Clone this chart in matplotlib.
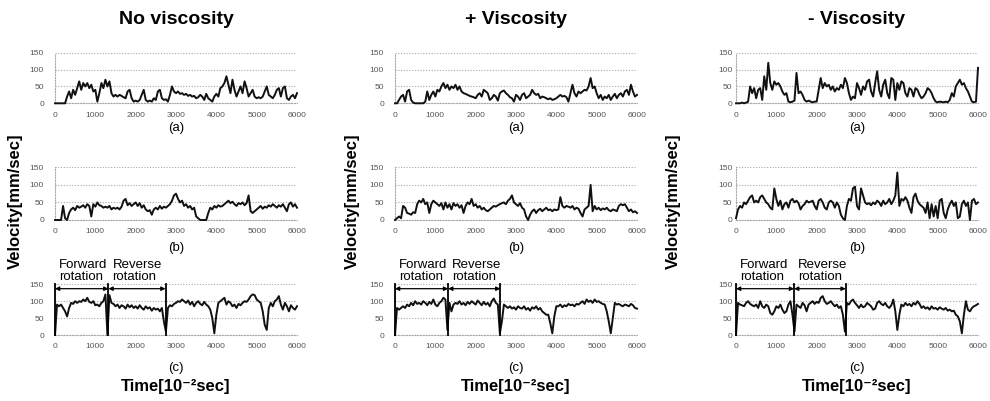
import numpy as np
import matplotlib
matplotlib.use('Agg')
import matplotlib.pyplot as plt

plt.rcParams['font.family'] = ['Liberation Sans', 'DejaVu Sans']

# ---------------- data ----------------
titles = ['No viscosity', '+ Viscosity', '- Viscosity']
panel_labels = ['(a)', '(b)', '(c)']
y_label = 'Velocity[mm/sec]'
x_label = 'Time[10\u207b\u00b2sec]'
x_ticks = [0, 1000, 2000, 3000, 4000, 5000, 6000]
y_ticks = [0, 50, 100, 150]
rotation_labels = ['Forward\nrotation', 'Reverse\nrotation']

# velocity samples every 50 time units, 0..6000
nv_a = [0, 0, 0, 0, 0, 0, 20, 35, 15, 40,
        25, 45, 65, 40, 60, 50, 60, 45, 55, 35,
        40, 5, 30, 60, 45, 70, 50, 65, 30, 20,
        25, 20, 25, 22, 18, 15, 35, 40, 15, 5,
        8, 5, 10, 25, 40, 10, 5, 8, 5, 15,
        10, 35, 40, 15, 10, 12, 5, 25, 50, 35,
        30, 35, 28, 30, 25, 28, 22, 25, 20, 22,
        15, 18, 25, 20, 10, 28, 15, 10, 5, 20,
        28, 20, 45, 50, 60, 80, 55, 30, 70, 40,
        20, 35, 50, 30, 65, 45, 20, 30, 40, 20,
        15, 18, 15, 20, 35, 50, 25, 20, 15, 25,
        40, 45, 20, 45, 50, 15, 10, 20, 25, 15,
        30]
nv_b = [0, 0, 0, 0, 40, 5, 0, 20, 30, 35,
        28, 40, 35, 38, 42, 35, 45, 40, 10, 45,
        38, 50, 42, 40, 35, 38, 35, 40, 30, 35,
        32, 35, 30, 38, 55, 60, 42, 48, 40, 45,
        50, 40, 48, 35, 42, 30, 25, 28, 15, 30,
        35, 30, 40, 32, 38, 35, 40, 45, 55, 70,
        75, 60, 50, 55, 40, 45, 35, 40, 30, 35,
        10, 5, 0, 0, 0, 0, 20, 35, 30, 40,
        35, 42, 38, 40, 45, 50, 55, 48, 52, 45,
        40, 48, 45, 50, 42, 48, 70, 25, 20, 25,
        30, 35, 40, 32, 38, 35, 42, 38, 45, 40,
        35, 42, 38, 45, 35, 25, 45, 50, 38, 45,
        35]
nv_c = [0, 90, 85, 90, 80, 70, 55, 80, 95, 92,
        100, 95, 100, 98, 105, 100, 110, 98, 95, 100,
        88, 90, 85, 95, 100, 120, 0, 118, 95, 92,
        85, 90, 80, 88, 85, 78, 90, 82, 88, 80,
        85, 78, 88, 80, 75, 85, 78, 82, 72, 80,
        75, 78, 70, 80, 40, 10, 80, 88, 85, 92,
        95, 100, 98, 105, 100, 95, 102, 90, 98, 85,
        95, 100, 92, 88, 98, 90, 85, 75, 50, 5,
        60, 95, 100, 105, 110, 90, 100, 95, 85, 90,
        80, 92, 88, 95, 100, 98, 105, 115, 120, 118,
        105, 100, 95, 70, 30, 15, 80, 95, 85, 100,
        105, 115, 90, 75, 95, 85, 70, 88, 80, 75,
        85]
pv_a = [0, 0, 10, 20, 25, 5, 35, 40, 10, 2,
        0, 0, 0, 0, 0, 5, 35, 10, 25, 35,
        20, 40, 35, 50, 60, 45, 55, 40, 50, 45,
        55, 40, 50, 35, 30, 28, 25, 22, 20, 18,
        15, 25, 30, 20, 40, 35, 30, 10, 15, 25,
        20, 8, 30, 35, 38, 30, 25, 18, 15, 5,
        25, 20, 10, 25, 30, 15, 20, 25, 40, 30,
        25, 28, 15, 20, 18, 15, 12, 15, 10, 12,
        15, 20, 25, 20, 22, 18, 5, 30, 55, 30,
        20, 35, 30, 35, 40, 38, 50, 75, 45, 50,
        30, 15, 25, 10, 20, 15, 25, 10, 20, 28,
        15, 25, 30, 20, 35, 40, 25, 55, 35, 20,
        25]
pv_b = [0, 5, 10, 5, 40, 35, 20, 18, 15, 22,
        20, 45, 55, 50, 60, 45, 50, 20, 45, 55,
        50, 45, 40, 48, 30, 50, 35, 45, 30, 48,
        40, 45, 35, 42, 20, 40, 50, 45, 60, 40,
        45, 35, 40, 30, 35, 28, 25, 30, 35, 40,
        38, 42, 45, 48, 50, 45, 55, 60, 70, 50,
        45, 40, 48, 35, 30, 10, 0, 15, 25, 30,
        20, 28, 32, 25, 30, 35, 28, 30, 25, 30,
        28, 30, 65, 40, 35, 40, 38, 35, 40, 30,
        35, 32, 20, 10, 30, 35, 40, 100, 25, 40,
        30, 35, 28, 33, 30, 35, 28, 25, 30, 28,
        25, 40, 45, 42, 45, 35, 25, 30, 22, 25,
        20]
pv_c = [0, 80, 75, 80, 85, 80, 90, 85, 95, 88,
        100, 92, 95, 90, 100, 95, 88, 98, 92, 105,
        90, 85, 95, 100, 110, 105, 15, 95, 70, 90,
        95, 92, 100, 90, 95, 88, 98, 92, 100, 95,
        90, 102, 95, 88, 98, 90, 95, 85, 100, 108,
        95, 90, 5, 40, 90, 85, 80, 85, 78, 82,
        75, 85, 80, 78, 85, 75, 80, 72, 82, 78,
        85, 75, 80, 70, 65, 60, 60, 35, 5, 55,
        85, 85, 90, 82, 88, 85, 92, 88, 90, 85,
        92, 90, 95, 100, 92, 105, 98, 102, 95, 105,
        98, 100, 95, 92, 90, 70, 40, 5, 50, 95,
        90, 92, 88, 85, 90, 88, 85, 92, 88, 80,
        78]
mv_a = [0, 0, 0, 2, 0, 2, 5, 50, 30, 45,
        15, 40, 45, 10, 80, 40, 120, 60, 40, 65,
        55, 60, 50, 35, 25, 30, 5, 3, 5, 8,
        90, 30, 35, 25, 10, 5, 8, 5, 3, 5,
        5, 40, 75, 45, 60, 50, 55, 40, 50, 35,
        45, 40, 55, 45, 75, 60, 30, 10, 20, 15,
        60, 45, 25, 50, 40, 65, 70, 35, 20, 60,
        95, 40, 20, 55, 70, 30, 15, 75, 70, 10,
        60, 40, 65, 60, 30, 20, 45, 40, 20, 45,
        40, 25, 15, 20, 30, 45, 40, 30, 15, 5,
        3, 5, 4, 3, 5, 3, 10, 30, 20, 50,
        60, 70, 55, 60, 45, 35, 20, 5, 3, 5,
        105]
mv_b = [5, 30, 40, 35, 50, 45, 55, 65, 70, 50,
        55, 50, 65, 70, 60, 50, 45, 35, 30, 90,
        60, 40, 55, 30, 45, 50, 35, 55, 60, 50,
        55, 48, 30, 40, 45, 55, 50, 52, 55, 40,
        30, 55, 60, 50, 35, 30, 50, 55, 50, 35,
        50, 40, 15, 5, 0, 40, 60, 55, 90, 95,
        40, 30, 90, 70, 50, 45, 48, 42, 50, 45,
        55, 50, 40, 55, 45, 50, 60, 45, 55, 70,
        135, 40, 60, 55, 65, 55, 35, 20, 65, 75,
        55, 45, 40, 35, 20, 50, 5, 45, 10, 40,
        5, 55, 60, 20, 5, 30, 45, 55, 40, 50,
        5, 10, 45, 55, 40, 50, 0, 55, 60, 45,
        50]
mv_c = [0, 95, 90, 88, 85, 95, 100, 92, 88, 85,
        90, 80, 100, 85, 80, 90, 85, 65, 60, 70,
        85, 80, 90, 75, 65, 70, 90, 100, 60, 10,
        90, 85, 80, 95, 88, 70, 90, 95, 100, 92,
        98, 95, 110, 115, 100, 92, 95, 100, 92, 85,
        90, 80, 85, 60, 10, 95, 90, 100, 105, 95,
        88, 80, 90, 82, 85, 95, 90, 85, 75, 78,
        95, 100, 92, 88, 95, 85, 80, 88, 105, 70,
        15, 60, 90, 85, 95, 88, 92, 85, 95, 90,
        100, 92, 80, 85, 78, 82, 75, 85, 78, 80,
        75, 82, 78, 75, 80, 72, 75, 70, 72, 60,
        55, 40, 5, 60, 100, 75, 70, 80, 85, 88,
        92]

# direction-change marker times (forward start, reverse start, reverse end)
nv_marks = [0, 1325, 2740]
pv_marks = [0, 1318, 2613]
mv_marks = [0, 1440, 2720]

series = [[nv_a, nv_b, nv_c], [pv_a, pv_b, pv_c], [mv_a, mv_b, mv_c]]
marks = [nv_marks, pv_marks, mv_marks]

# ---------------- layout ----------------
W, H = 990, 401
fig = plt.figure(figsize=(W / 100, H / 100), dpi=100)

col_l = [55, 395, 736]
col_r = [297, 637, 978]
row_t = [52.7, 167.3, 284.3]
row_b = [103.3, 220.0, 335.0]
ytick_pad = [8, 8, 2.5]
ylabel_x = [15, 352, 673]
label_y = [128, 248, 368]

grid_kw = dict(color='#a8a8a8', linestyle=(0, (1, 1.5)), linewidth=0.8)
bold_fam = ['Liberation Sans', 'DejaVu Sans']

for c in range(3):
    xc = (col_l[c] + col_r[c]) / 2 / W
    fig.text(xc, 1 - 20 / H, titles[c], ha='center', va='center',
             fontsize=14, fontweight='bold', family=bold_fam)
    fig.text(ylabel_x[c] / W, 1 - 201 / H, y_label, rotation=90,
             ha='center', va='center', fontsize=12, fontweight='bold',
             family=bold_fam)
    fig.text(xc, 1 - 387 / H, x_label, ha='center', va='center',
             fontsize=12, fontweight='bold', family=bold_fam)
    for r in range(3):
        ax = fig.add_axes([col_l[c] / W, 1 - row_b[r] / H,
                           (col_r[c] - col_l[c]) / W, (row_b[r] - row_t[r]) / H])
        v = series[c][r]
        t = np.linspace(0, 6000, len(v))
        ax.plot(t, v, color='#111111', lw=1.4, clip_on=False, zorder=3)
        ax.set_xlim(0, 6000)
        ax.set_ylim(0, 150)
        ax.set_xticks(x_ticks)
        ax.set_yticks(y_ticks)
        ax.tick_params(axis='both', length=0, labelsize=6, labelcolor='#555555')
        ax.tick_params(axis='x', pad=6)
        ax.tick_params(axis='y', pad=ytick_pad[c])
        for s in ['top', 'right']:
            ax.spines[s].set_visible(False)
        for s in ['left', 'bottom']:
            ax.spines[s].set_color('#a8a8a8')
            ax.spines[s].set_linestyle((0, (1, 1.5)))
            ax.spines[s].set_linewidth(0.8)
        ax.grid(axis='y', **grid_kw)
        ax.set_axisbelow(True)
        fig.text(xc, 1 - label_y[r] / H, panel_labels[r], ha='center',
                 va='center', fontsize=9.5)
        if r == 2:
            m = marks[c]
            for xm in m:
                ax.plot([xm, xm], [0, 150], color='black', lw=1.3,
                        clip_on=False, zorder=4)
            for k in range(2):
                ax.annotate('', xy=(m[k], 137), xytext=(m[k + 1], 137),
                            arrowprops=dict(arrowstyle='<|-|>', color='black',
                                            lw=0.9, mutation_scale=6,
                                            shrinkA=0, shrinkB=0),
                            annotation_clip=False)
                ax.annotate(rotation_labels[k], xy=(m[k], 150), xytext=(3, 1),
                            textcoords='offset points', ha='left', va='bottom',
                            fontsize=9.5, linespacing=1.0,
                            annotation_clip=False)

fig.savefig('out.png', dpi=100)
